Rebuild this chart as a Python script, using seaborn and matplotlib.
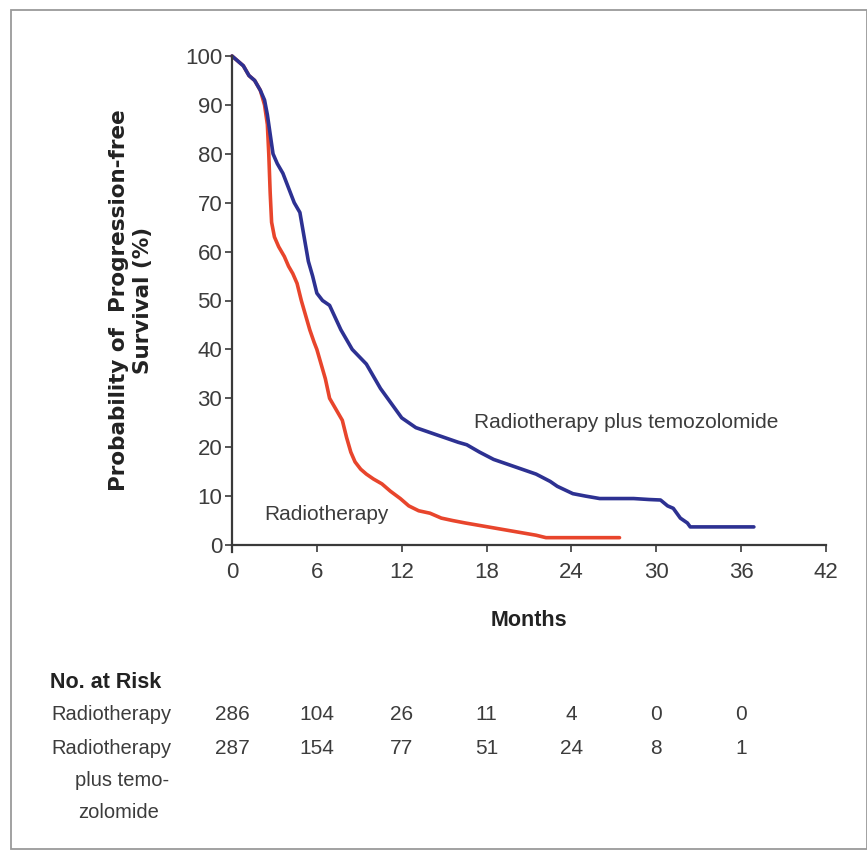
import numpy as np
import pandas as pd
import matplotlib
matplotlib.use("Agg")
import matplotlib.pyplot as plt
import matplotlib.transforms as mtransforms
from matplotlib.patches import Rectangle
import seaborn as sns

# ---- data ----
rt_months = [0, 0.4, 0.8, 1.2, 1.6, 2.0, 2.3, 2.5, 2.6, 2.7, 2.8, 3.0, 3.3, 3.7, 4.0, 4.3,
             4.6, 4.9, 5.2, 5.5, 5.8, 6.0, 6.3, 6.6, 6.9, 7.3, 7.8, 8.1, 8.4, 8.7, 9.1, 9.5,
             10.0, 10.6, 11.2, 11.9, 12.5, 13.2, 14.0, 14.8, 15.6, 16.5, 17.5, 18.5, 19.5,
             20.5, 21.5, 22.2, 27.4]
rt_surv = [100, 99, 98, 96, 95, 93, 90, 86, 80, 72, 66, 63, 61, 59, 57, 55.5,
           53.5, 50, 47, 44, 41.5, 40, 37, 34, 30, 28, 25.5, 22, 19, 17, 15.5, 14.5,
           13.5, 12.5, 11, 9.5, 8, 7, 6.5, 5.5, 5, 4.5, 4, 3.5, 3,
           2.5, 2, 1.5, 1.5]

tmz_months = [0, 0.4, 0.8, 1.2, 1.6, 2.0, 2.3, 2.5, 2.7, 2.9, 3.2, 3.6, 4.0, 4.4, 4.8, 5.1,
              5.4, 5.7, 6.0, 6.4, 6.9, 7.3, 7.7, 8.1, 8.5, 9.0, 9.5, 10.0, 10.5, 11.0, 11.5,
              12.0, 12.5, 13.0, 14.0, 15.0, 16.0, 16.6, 17.5, 18.5, 19.5, 20.5, 21.5, 22.5,
              23.0, 24.1, 25.0, 26.0, 28.4, 29.5, 30.3, 30.8, 31.2, 31.7, 32.2, 32.4, 36.9]
tmz_surv = [100, 99, 98, 96, 95, 93, 91, 88, 84, 80, 78, 76, 73, 70, 68, 63,
            58, 55, 51.5, 50, 49, 46.5, 44, 42, 40, 38.5, 37, 34.5, 32, 30, 28,
            26, 25, 24, 23, 22, 21, 20.5, 19, 17.5, 16.5, 15.5, 14.5, 13,
            12, 10.5, 10, 9.5, 9.5, 9.3, 9.2, 8, 7.5, 5.5, 4.5, 3.7, 3.7]

risk_months = [0, 6, 12, 18, 24, 30, 36]
risk_rt = ["286", "104", "26", "11", "4", "0", "0"]
risk_tmz = ["287", "154", "77", "51", "24", "8", "1"]

x_ticks = [0, 6, 12, 18, 24, 30, 36, 42]
y_ticks = [0, 10, 20, 30, 40, 50, 60, 70, 80, 90, 100]

# ---- style ----
sns.set_style("ticks")
FONT = ["Liberation Sans", "DejaVu Sans"]
plt.rcParams["font.family"] = FONT

RED = "#e8452c"
BLUE = "#2d3192"
AX = "#3a3a3a"
TXT = "#3c3c3c"

fig = plt.figure(figsize=(8.67, 8.51), dpi=100)
ax = fig.add_axes([232 / 867, 1 - 545 / 851, (826 - 232) / 867, (545 - 56) / 851])

df = pd.concat([
    pd.DataFrame({"Months": rt_months, "Surv": rt_surv, "Arm": "Radiotherapy"}),
    pd.DataFrame({"Months": tmz_months, "Surv": tmz_surv, "Arm": "Radiotherapy plus temozolomide"}),
])
sns.lineplot(data=df, x="Months", y="Surv", hue="Arm",
             palette={"Radiotherapy": RED, "Radiotherapy plus temozolomide": BLUE},
             estimator=None, sort=False, linewidth=2.6,
             legend=False, ax=ax, clip_on=False)

ax.set_xlim(0, 42)
ax.set_ylim(0, 100)
ax.set_xticks(x_ticks)
ax.set_yticks(y_ticks)
ax.set_xticklabels([str(v) for v in x_ticks])
ax.set_yticklabels([str(v) for v in y_ticks])
sns.despine(ax=ax)
for s in ("left", "bottom"):
    ax.spines[s].set_color(AX)
    ax.spines[s].set_linewidth(1.6)
ax.spines["left"].set_bounds(-1.5, 100)
ax.tick_params(axis="both", colors=AX, labelcolor=TXT, labelsize=16,
               width=1.2, direction="out")
ax.tick_params(axis="y", length=5, pad=2)
ax.tick_params(axis="x", length=5, pad=7)
ax.grid(False)

ax.set_xlabel("Months", fontsize=15.5, fontweight="bold", color="#222222", labelpad=20)
ax.set_ylabel("")
fig.text(0.151, 1 - 300 / 851, "Probability of  Progression-free\nSurvival (%)",
         rotation=90, ha="center", va="center", fontsize=15.5, fontweight="bold",
         family=["DejaVu Sans"], color="#222222", linespacing=1.25)

ax.text(27.9, 25.0, "Radiotherapy plus temozolomide", fontsize=15, color=TXT,
        ha="center", va="center")
ax.text(2.3, 6.2, "Radiotherapy", fontsize=15, color=TXT, ha="left", va="center")

# ---- number at risk table ----
trans = mtransforms.blended_transform_factory(ax.transData, fig.transFigure)
fig.text(50 / 867, 1 - 683 / 851, "No. at Risk", fontsize=15.5, fontweight="bold",
         color="#222222", ha="left", va="center")
fig.text(111 / 867, 1 - 715 / 851, "Radiotherapy", fontsize=14.5, color=TXT,
         ha="center", va="center")
fig.text(111 / 867, 1 - 748 / 851, "Radiotherapy", fontsize=14.5, color=TXT,
         ha="center", va="center")
fig.text(122 / 867, 1 - 780 / 851, "plus temo-", fontsize=14.5, color=TXT,
         ha="center", va="center")
fig.text(119 / 867, 1 - 812 / 851, "zolomide", fontsize=14.5, color=TXT,
         ha="center", va="center")
for m, a, b in zip(risk_months, risk_rt, risk_tmz):
    ax.text(m, 1 - 715 / 851, a, transform=trans, fontsize=15, color=TXT,
            ha="center", va="center")
    ax.text(m, 1 - 748 / 851, b, transform=trans, fontsize=15, color=TXT,
            ha="center", va="center")

# outer frame
fig.patches.append(Rectangle((11 / 867, 2 / 851), 856 / 867, 839 / 851,
                             transform=fig.transFigure, fill=False,
                             edgecolor="#9a9a9a", linewidth=1.3))

fig.savefig("out.png", dpi=100, facecolor="white")
